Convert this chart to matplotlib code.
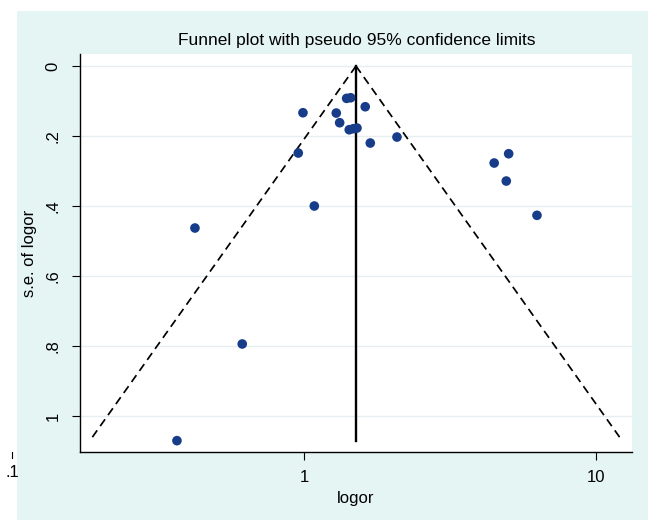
import numpy as np
import matplotlib
matplotlib.use("Agg")
import matplotlib.pyplot as plt
from matplotlib.patches import Rectangle

plt.rcParams["font.family"] = ["Liberation Sans", "DejaVu Sans"]

# study estimates (odds ratio scale) and their standard errors of log OR
odds_ratio = [1.400, 1.445, 0.992, 1.290, 1.621, 1.325, 1.429, 1.475, 1.519, 1.687,
              2.082, 0.956, 4.481, 5.023, 4.930, 1.085, 6.280, 0.4233, 0.6146, 0.3673]
se_logor = [0.0923, 0.0906, 0.1334, 0.1343, 0.1163, 0.1620, 0.1820, 0.1791, 0.1771, 0.2200,
            0.2029, 0.2486, 0.2771, 0.2506, 0.3286, 0.4000, 0.4266, 0.4629, 0.7943, 1.0706]
pooled_or = 1.507

x_ticks = [1, 10]
x_tick_labels = ["1", "10"]
y_ticks = [0, 0.2, 0.4, 0.6, 0.8, 1]
y_tick_labels = ["0", ".2", ".4", ".6", ".8", "1"]

bg = "#E5F5F3"
dot = "#163C8A"

fig = plt.figure(figsize=(6.65, 5.32), dpi=100)
fig.patch.set_facecolor("white")
fig.patches.append(Rectangle((0.0256, 0.0226), 0.949, 0.957, transform=fig.transFigure,
                             facecolor=bg, edgecolor="none", zorder=-10))

ax = fig.add_axes([0.1203, 0.1504, 0.830, 0.748])
ax.set_facecolor("white")

# pseudo 95% confidence limits
se_max = max(se_logor)
se_line = np.array([0, se_max])
lo = np.exp(np.log(pooled_or) - 1.96 * se_line)
hi = np.exp(np.log(pooled_or) + 1.96 * se_line)
ax.plot(lo, se_line, color="black", lw=1.25, ls=(0, (4.8, 3)), zorder=3)
ax.plot(hi, se_line, color="black", lw=1.25, ls=(0, (4.8, 3)), zorder=3)
ax.plot([pooled_or, pooled_or], se_line, color="black", lw=1.7, zorder=3)

ax.scatter(odds_ratio, se_logor, s=48, color=dot, edgecolors="none", zorder=4)

ax.set_xscale("log")
ax.set_xlim(0.171, 13.28)
ax.set_ylim(1.103, -0.0343)

ax.set_xticks(x_ticks)
ax.set_xticklabels(x_tick_labels)
ax.xaxis.set_minor_locator(matplotlib.ticker.NullLocator())
ax.set_yticks(y_ticks)
ax.set_yticklabels(y_tick_labels, rotation=90, va="center")
ax.tick_params(axis="both", direction="out", length=6, width=0.8, labelsize=12, colors="black")
ax.tick_params(axis="x", pad=7)
ax.tick_params(axis="y", pad=8)

ax.grid(axis="y", color="#E6EEF0", lw=1.0, zorder=0)
ax.set_axisbelow(True)

for side in ["top", "right"]:
    ax.spines[side].set_visible(False)
for side in ["left", "bottom"]:
    ax.spines[side].set_linewidth(1.0)

# the .1 tick falls outside the plot region, as in the original
trans = ax.get_xaxis_transform()
ax.plot([0.1, 0.1], [0, -0.015], color="black", lw=0.8, transform=trans, clip_on=False)
ax.text(0.1, -0.052, ".1", transform=trans, ha="center", va="center", fontsize=12)

ax.set_xlabel("logor", fontsize=12, labelpad=4)
ax.set_ylabel("s.e. of logor", fontsize=12, labelpad=6)

fig.text(0.537, 1 - 40 / 532, "Funnel plot with pseudo 95% confidence limits",
         ha="center", va="center", fontsize=12.5)

fig.savefig("out.png", dpi=100, facecolor=fig.get_facecolor())
